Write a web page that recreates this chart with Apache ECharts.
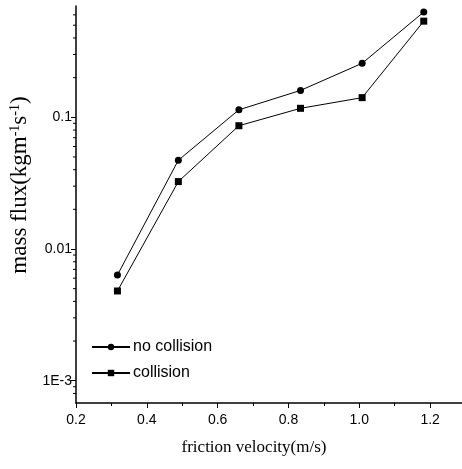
<!DOCTYPE html>
<html>
<head>
<meta charset="utf-8">
<script src="https://cdn.jsdelivr.net/npm/echarts@6/dist/echarts.min.js"></script>
<style>
  html, body { margin: 0; padding: 0; background: #fff; }
  #chart { width: 462px; height: 469px; }
</style>
</head>
<body>
<div id="chart"></div>
<script>
// friction velocity (m/s)
const frictionVelocity = [0.317, 0.489, 0.660, 0.834, 1.008, 1.182];
// mass flux (kg m^-1 s^-1)
const noCollision = [0.00634, 0.0472, 0.114, 0.160, 0.257, 0.63];
const collision = [0.0048, 0.0325, 0.0863, 0.117, 0.141, 0.537];
// minor tick values of the logarithmic flux axis
const yMinorTicks = [0.0008, 0.0009,
  0.002, 0.003, 0.004, 0.005, 0.006, 0.007, 0.008, 0.009,
  0.02, 0.03, 0.04, 0.05, 0.06, 0.07, 0.08, 0.09,
  0.2, 0.3, 0.4, 0.5, 0.6];
const yTickLabels = { '0.001': '1E-3', '0.01': '0.01', '0.1': '0.1' };

const X_MIN = 0.2, X_MAX = 1.29;
const SANS = 'Liberation Sans, Arial, sans-serif';
const SERIF = 'Liberation Serif, Times New Roman, serif';

const chart = echarts.init(document.getElementById('chart'));
chart.setOption({
  animation: false,
  backgroundColor: '#fff',
  grid: { left: 76, right: 0, top: 6, bottom: 66 },
  legend: {
    left: 86, top: 334, orient: 'vertical', itemGap: 10,
    itemWidth: 38, itemHeight: 8,
    textStyle: { fontFamily: SANS, fontSize: 16, color: '#000', padding: [0, 0, 0, -2] },
    data: ['no collision', 'collision']
  },
  xAxis: {
    type: 'value', min: X_MIN, max: X_MAX, interval: 0.2,
    name: 'friction velocity(m/s)', nameLocation: 'middle', nameGap: 36,
    nameTextStyle: { fontFamily: SERIF, fontSize: 17, color: '#000', padding: [0, 30, 0, 0] },
    axisLine: { show: true, lineStyle: { color: '#000', width: 1.5 } },
    axisTick: { show: true, inside: false, length: 5, lineStyle: { color: '#000' } },
    minorTick: { show: true, splitNumber: 2, length: 3, lineStyle: { color: '#000' } },
    splitLine: { show: false },
    axisLabel: {
      showMaxLabel: false, margin: 10, color: '#000',
      fontFamily: SANS, fontSize: 14,
      formatter: v => v.toFixed(1)
    }
  },
  yAxis: {
    type: 'log', min: 0.000677, max: 0.70, logBase: 10,
    name: '{n|mass flux(kgm}{s|-1}{n|s}{s|-1}{n|)}', nameLocation: 'middle', nameGap: 44,
    nameTextStyle: {
      color: '#000', padding: [0, 0, 0, 39],
      rich: {
        n: { fontFamily: SERIF, fontSize: 23, color: '#000' },
        s: { fontFamily: SERIF, fontSize: 14, color: '#000', verticalAlign: 'top', padding: [0, 0, 10, 0] }
      }
    },
    axisLine: { show: true, lineStyle: { color: '#000', width: 1.5 } },
    axisTick: { show: true, inside: false, length: 5, lineStyle: { color: '#000' } },
    splitLine: { show: false },
    axisLabel: {
      showMinLabel: false, showMaxLabel: false, margin: 4, color: '#000',
      fontFamily: SANS, fontSize: 14,
      formatter: v => {
        const key = String(+v.toPrecision(3));
        return yTickLabels[key] || '';
      }
    }
  },
  series: [
    {
      name: 'no collision', type: 'line',
      data: frictionVelocity.map((x, i) => [x, noCollision[i]]),
      symbol: 'circle', symbolSize: 7,
      lineStyle: { color: '#000', width: 1 },
      itemStyle: { color: '#000' }
    },
    {
      name: 'collision', type: 'line',
      data: frictionVelocity.map((x, i) => [x, collision[i]]),
      symbol: 'rect', symbolSize: 7,
      lineStyle: { color: '#000', width: 1 },
      itemStyle: { color: '#000' }
    },
    {
      // short outward ticks at 2..9 of each decade on the flux axis
      type: 'custom', silent: true, clip: false,
      data: yMinorTicks.map(v => [X_MIN, v]),
      renderItem: (params, api) => {
        const p = api.coord([api.value(0), api.value(1)]);
        return {
          type: 'line',
          shape: { x1: p[0] - 3, y1: p[1], x2: p[0], y2: p[1] },
          style: { stroke: '#000', lineWidth: 1 }
        };
      }
    }
  ]
});
</script>
</body>
</html>
